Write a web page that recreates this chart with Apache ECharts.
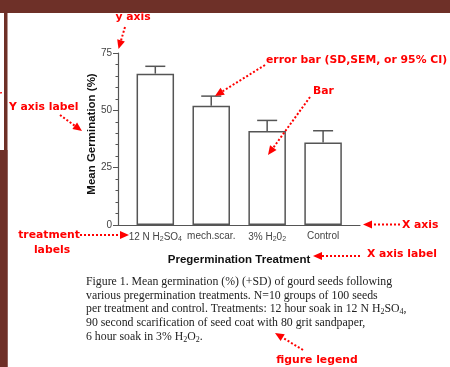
<!DOCTYPE html>
<html><head><meta charset="utf-8">
<script src="https://cdn.jsdelivr.net/npm/echarts@6/dist/echarts.min.js"></script>
<style>html,body{margin:0;padding:0;background:#fff}#c{width:450px;height:367px}</style>
</head><body><div id="c"></div>
<script>
// ---- data ----
var categories = ['12 N H{s|2}SO{s|4}', 'mech.scar.', '3% H{s|2}0{s|2}', 'Control'];
var meanGermination = [66, 52, 41, 36];
var sdGermination = [3.2, 4.2, 4.6, 5.1];
var captionLines = [
  'Figure 1. Mean germination (%) (+SD) of gourd seeds following',
  'various pregermination treatments. N=10 groups of 100 seeds',
  'per treatment and control. Treatments: 12 hour soak in 12 N H{s|2}SO{s|4},',
  '90 second scarification of seed coat with 80 grit sandpaper,',
  '6 hour soak in 3% H{s|2}O{s|2}.'
];

var RED = '#ff0000';
var BROWN = '#6e3028';
var AFONT = 'DejaVu Sans';

function arrow(x1, y1, x2, y2, headLen, headW) {
  headLen = headLen || 9; headW = headW || 4;
  var dx = x2 - x1, dy = y2 - y1, L = Math.sqrt(dx*dx + dy*dy);
  var ux = dx / L, uy = dy / L;
  var bx = x2 - ux * headLen, by = y2 - uy * headLen;
  var px = -uy, py = ux;
  return [
    {type: 'polyline', silent: true, z: 100,
     shape: {points: [[x1, y1], [bx, by]]},
     style: {stroke: RED, lineWidth: 2, lineDash: [2, 2], fill: null}},
    {type: 'polygon', silent: true, z: 100,
     shape: {points: [[x2, y2], [bx + px*headW, by + py*headW], [bx - px*headW, by - py*headW]]},
     style: {fill: RED, stroke: null}}
  ];
}
function redText(txt, x, y, align) {
  return {type: 'text', silent: true, z: 100, x: x, y: y,
    style: {text: txt, fill: RED, font: 'bold 10.8px "' + AFONT + '"', align: align || 'left', verticalAlign: 'middle'}};
}

var graphics = [
  {type: 'rect', silent: true, z: 0, shape: {x: 0, y: 0, width: 450, height: 13}, style: {fill: BROWN}},
  {type: 'rect', silent: true, z: 0, shape: {x: 4, y: 0, width: 3.5, height: 367}, style: {fill: BROWN}},
  {type: 'rect', silent: true, z: 0, shape: {x: 0, y: 150, width: 7.5, height: 217}, style: {fill: BROWN}},
  {type: 'text', silent: true, z: 100, x: -3, y: 95,
    style: {text: 'r', fill: RED, font: 'bold 10px "' + AFONT + '"', verticalAlign: 'middle'}},
  redText('y axis', 133, 17, 'center'),
  redText('error bar (SD,SEM, or 95% CI)', 266, 60),
  redText('Bar', 313, 91),
  redText('Y axis label', 9, 107),
  redText('treatment', 49, 235, 'center'),
  redText('labels', 52, 250, 'center'),
  redText('X axis', 402, 225),
  redText('X axis label', 367, 254),
  redText('figure legend', 317, 360, 'center')
];
graphics = graphics.concat(
  arrow(125, 27, 118.5, 49),
  arrow(265, 65, 215, 96),
  arrow(310, 97, 268, 155),
  arrow(60, 115, 82, 131),
  arrow(80, 235, 129, 235),
  arrow(400, 224.5, 363, 224.5),
  arrow(360, 256, 313, 256),
  arrow(303, 350, 275, 333)
);
var capY = [282, 295.5, 309, 322.5, 336.5];
captionLines.forEach(function (t, i) {
  graphics.push({type: 'text', silent: true, z: 50, x: 86, y: capY[i],
    style: {text: t, fill: '#222', font: '11.8px "Liberation Serif"', verticalAlign: 'middle',
      rich: {s: {fontSize: 8, fontFamily: 'Liberation Serif', fill: '#222', padding: [6, 0, 0, 0]}}}});
});

var chart = echarts.init(document.getElementById('c'), null, {renderer: 'canvas'});
chart.setOption({
  animation: false,
  backgroundColor: '#fff',
  grid: {left: 118, right: 90, top: 53, bottom: 142, containLabel: false, outerBoundsMode: 'none'},
  xAxis: {
    type: 'value', min: -0.667, max: 3.66,
    name: 'Pregermination Treatment', nameLocation: 'middle', nameGap: 29, nameMoveOverlap: false,
    nameTextStyle: {fontFamily: 'Liberation Sans', fontWeight: 'bold', fontSize: 11.5, color: '#111'},
    axisLine: {show: true, onZero: false, lineStyle: {color: '#555', width: 1.2}},
    axisTick: {show: false},
    splitLine: {show: false},
    axisLabel: {
      customValues: [0, 1, 2, 3], margin: 6, color: '#444', fontSize: 10, fontFamily: 'Liberation Sans',
      formatter: function (v) { return categories[Math.round(v)]; },
      rich: {s: {fontSize: 7, fontFamily: 'Liberation Sans', color: '#444', padding: [5, 0, 0, 0]}}
    }
  },
  yAxis: {
    type: 'value', min: 0, max: 75, interval: 25,
    name: 'Mean Germination (%)', nameLocation: 'middle', nameGap: 20, nameMoveOverlap: false,
    nameTextStyle: {fontFamily: 'Liberation Sans', fontWeight: 'bold', fontSize: 11.5, color: '#111', padding: [0, 0, 0, 10]},
    axisLine: {show: true, onZero: false, lineStyle: {color: '#555', width: 1.2}},
    axisTick: {show: true, length: 5, lineStyle: {color: '#555'}},
    minorTick: {show: true, splitNumber: 5, length: 2.5, lineStyle: {color: '#555'}},
    splitLine: {show: false},
    axisLabel: {margin: 6, color: '#444', fontSize: 10, fontFamily: 'Liberation Sans'}
  },
  series: [
    {
      type: 'bar', barWidth: 37.5,
      data: meanGermination.map(function (m, i) { return [i, m]; }),
      itemStyle: {color: '#fff', borderColor: '#555', borderWidth: 1.5},
      z: 2
    },
    {
      type: 'custom', z: 3,
      data: meanGermination.map(function (m, i) { return [i, m, m + sdGermination[i]]; }),
      renderItem: function (params, api) {
        var b = api.coord([api.value(0), api.value(1)]);
        var t = api.coord([api.value(0), api.value(2)]);
        var hw = 10;
        var st = {stroke: '#555', lineWidth: 1.5};
        return {type: 'group', children: [
          {type: 'line', shape: {x1: b[0], y1: b[1], x2: t[0], y2: t[1]}, style: st},
          {type: 'line', shape: {x1: t[0] - hw, y1: t[1], x2: t[0] + hw, y2: t[1]}, style: st}
        ]};
      }
    }
  ],
  graphic: graphics
});
</script></body></html>
